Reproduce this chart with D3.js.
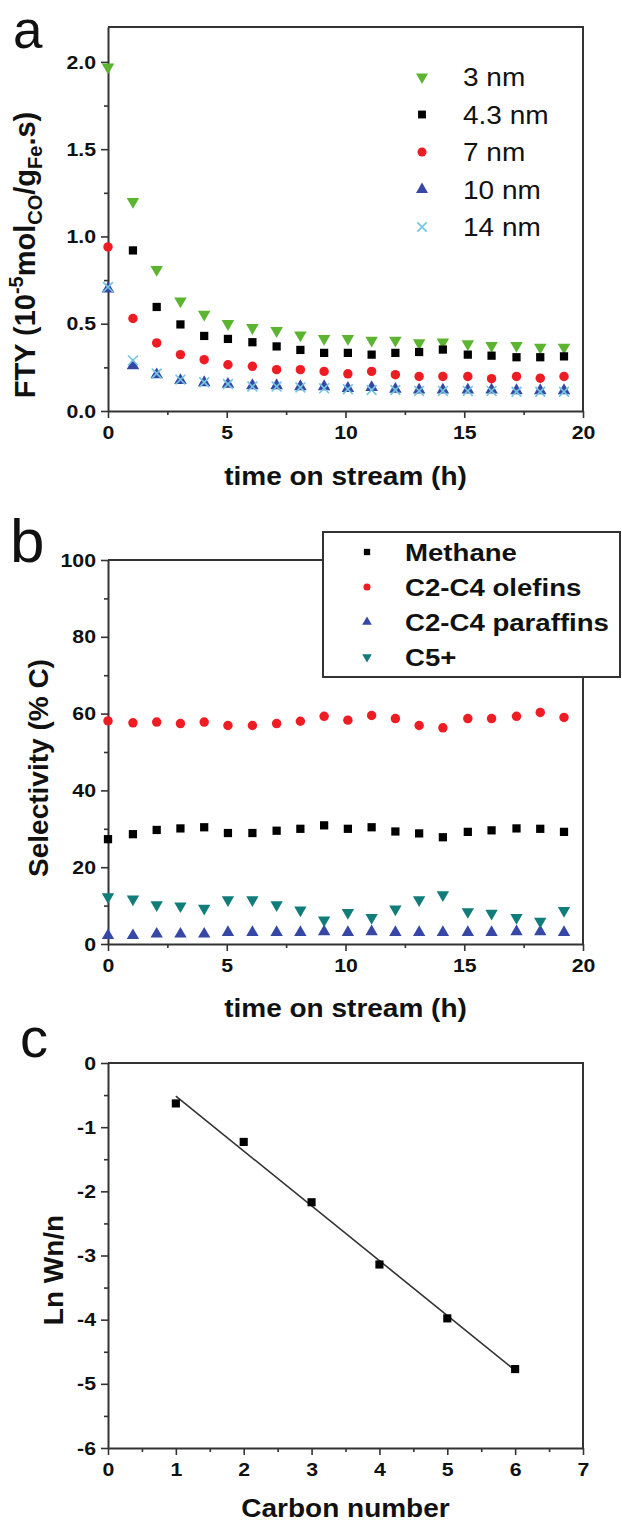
<!DOCTYPE html>
<html>
<head>
<meta charset="utf-8">
<script src="https://cdn.jsdelivr.net/npm/d3@7"></script>
<style>
  body { margin: 0; background: #fff; }
  svg { display: block; }
  text { font-family: "Liberation Sans", Arial, sans-serif; fill: #111; }
</style>
</head>
<body>
<script>
// ---- data ----
const times = [0, 1.05, 2.05, 3.05, 4.05, 5.05, 6.08, 7.1, 8.1, 9.1, 10.1, 11.1, 12.1, 13.1, 14.1, 15.15, 16.15, 17.2, 18.2, 19.2];

// panel a: FTY (10^-5 mol CO / gFe.s)
const fty3nm  = [1.97, 1.20, 0.81, 0.63, 0.554, 0.50, 0.477, 0.46, 0.435, 0.415, 0.415, 0.405, 0.405, 0.39, 0.395, 0.385, 0.375, 0.375, 0.365, 0.365];
const fty43nm = [null, 0.92, 0.596, 0.496, 0.43, 0.413, 0.394, 0.37, 0.35, 0.333, 0.333, 0.323, 0.333, 0.338, 0.352, 0.323, 0.317, 0.308, 0.308, 0.313];
const fty7nm  = [0.94, 0.53, 0.39, 0.323, 0.294, 0.265, 0.256, 0.237, 0.237, 0.227, 0.213, 0.227, 0.208, 0.198, 0.198, 0.198, 0.185, 0.198, 0.188, 0.198];
const fty10nm = [0.70, 0.26, 0.208, 0.175, 0.163, 0.154, 0.146, 0.146, 0.14, 0.14, 0.13, 0.135, 0.125, 0.121, 0.121, 0.121, 0.121, 0.117, 0.117, 0.117];
const fty14nm = [0.71, 0.29, 0.215, 0.18, 0.165, 0.155, 0.14, 0.14, 0.135, 0.13, 0.125, 0.12, 0.12, 0.115, 0.115, 0.115, 0.115, 0.11, 0.11, 0.11];
const sizeLabels = ["3 nm", "4.3 nm", "7 nm", "10 nm", "14 nm"];

// panel b: selectivity (% C)
const methane   = [27.3, 28.6, 29.7, 30.1, 30.4, 28.9, 28.9, 29.5, 30.0, 30.9, 30.0, 30.4, 29.3, 28.8, 27.8, 29.2, 29.6, 30.1, 30.0, 29.2];
const olefins   = [58.1, 57.6, 57.8, 57.4, 57.8, 56.9, 56.9, 57.4, 58.0, 59.3, 58.3, 59.5, 58.7, 56.9, 56.3, 58.7, 58.7, 59.3, 60.3, 59.0];
const paraffins = [2.2, 2.2, 2.6, 2.6, 2.6, 3.0, 3.0, 3.0, 3.0, 3.2, 3.0, 3.2, 3.0, 3.0, 3.0, 3.0, 3.0, 3.2, 3.2, 3.0];
const c5plus    = [12.3, 11.7, 10.2, 9.9, 9.3, 11.5, 11.5, 10.2, 8.85, 6.25, 8.2, 6.9, 9.1, 11.5, 12.8, 8.4, 8.0, 6.9, 5.9, 8.7];
const productLabels = ["Methane", "C2-C4 olefins", "C2-C4 paraffins", "C5+"];

// panel c: ASF plot
const carbonNumber = [1, 2, 3, 4, 5, 6];
const lnWn = [-0.63, -1.23, -2.17, -3.14, -3.98, -4.77];

// ---- layout ----
const W = 622, H = 1524;
const left = 108, right = 583;
const sx = 1.12;   // the figure is slightly wide-set
const ink = "#333";
const plain = d => String(d);   // hyphen minus like the original, not U+2212

const svg = d3.select("body").append("svg").attr("width", W).attr("height", H);

function stretch(sel, k) {
  sel.each(function () {
    const t = d3.select(this);
    const x = +t.attr("x") || 0, y = +t.attr("y") || 0;
    t.attr("x", 0).attr("y", 0)
     .attr("transform", `translate(${x},${y}) scale(${k || sx},1)`);
  });
}

function axes(x, y, xMajor, xMinor, yMajor, yMinor, xFmt, yFmt) {
  const [x0, x1] = x.range();
  const [y0, y1] = y.range();
  const g = svg.append("g");

  const gx = g.append("g").attr("transform", `translate(0,${y0})`)
    .call(d3.axisBottom(x).tickValues(xMajor).tickSize(7).tickSizeOuter(0).tickPadding(8).tickFormat(xFmt));
  g.append("g").attr("transform", `translate(0,${y0})`)
    .call(d3.axisBottom(x).tickValues(xMinor).tickSize(4).tickSizeOuter(0).tickFormat(""))
    .select(".domain").remove();
  const gy = g.append("g").attr("transform", `translate(${x0},0)`)
    .call(d3.axisLeft(y).tickValues(yMajor).tickSize(7).tickSizeOuter(0).tickPadding(5).tickFormat(yFmt));
  g.append("g").attr("transform", `translate(${x0},0)`)
    .call(d3.axisLeft(y).tickValues(yMinor).tickSize(4).tickSizeOuter(0).tickFormat(""))
    .select(".domain").remove();

  g.selectAll(".domain").attr("stroke", ink).attr("stroke-width", 2);
  g.selectAll(".tick line").attr("stroke", ink).attr("stroke-width", 1.6);
  g.selectAll(".tick text").attr("font-size", 19).attr("font-weight", "bold").attr("fill", "#111");
  stretch(gx.selectAll(".tick text"));
  stretch(gy.selectAll(".tick text"));

  // top and right edges of the frame
  g.append("path")
    .attr("d", `M${x0},${y1}H${x1}V${y0}`)
    .attr("fill", "none").attr("stroke", ink).attr("stroke-width", 2);
  return g;
}

function hText(str, x, y, size, weight, k) {
  const t = svg.append("text").attr("x", x).attr("y", y)
    .attr("text-anchor", "middle").attr("font-size", size).attr("font-weight", weight || "bold")
    .text(str);
  stretch(t, k);
  return t;
}

function vText(x, y, size) {
  return svg.append("text")
    .attr("transform", `translate(${x},${y}) rotate(-90)`)
    .attr("text-anchor", "middle").attr("font-size", size).attr("font-weight", "bold");
}

function panelLetter(str, x, y, size) {
  svg.append("text").attr("x", x).attr("y", y)
    .attr("font-size", size).attr("fill", "#111").text(str);
}

function scatter(x, y, xs, ys, type, size, color, rot, stroke) {
  const pts = xs.map((t, i) => ({ t, v: ys[i] })).filter(d => d.v != null);
  svg.append("g").selectAll("path").data(pts).join("path")
    .attr("d", d3.symbol().type(type).size(size))
    .attr("transform", d => `translate(${x(d.t)},${y(d.v)}) rotate(${rot || 0})`)
    .attr("fill", stroke ? "none" : color)
    .attr("stroke", stroke ? color : "none")
    .attr("stroke-width", stroke ? 1.6 : 0);
}

const cross = d3.symbolTimes || d3.symbolX || d3.symbolCross;

// ================= panel a =================
const xa = d3.scaleLinear().domain([0, 20]).range([left, right]);
const ya = d3.scaleLinear().domain([0, 2.2]).range([411, 27]);
axes(xa, ya, [0, 5, 10, 15, 20], [2.5, 7.5, 12.5, 17.5],
     d3.range(0, 2.01, 0.5), d3.range(0.25, 2.2, 0.5), d3.format("d"), d3.format(".1f"));

const seriesA = [
  { v: fty3nm,  type: d3.symbolTriangle, size: 68, color: "#5cb531", rot: 180 },
  { v: fty43nm, type: d3.symbolSquare,   size: 68, color: "#000" },
  { v: fty7nm,  type: d3.symbolCircle,   size: 70, color: "#ee1d23" },
  { v: fty10nm, type: d3.symbolTriangle, size: 68, color: "#3647a6" },
  { v: fty14nm, type: cross,             size: 64, color: "#72c6de", stroke: true }
];
seriesA.forEach(s => scatter(xa, ya, times, s.v, s.type, s.size, s.color, s.rot, s.stroke));

// legend a
const legA = d3.scalePoint().domain(sizeLabels).range([77, 227]);
seriesA.forEach((s, i) => {
  const cy = legA(sizeLabels[i]);
  svg.append("path").attr("d", d3.symbol().type(s.type).size(s.size - 6)())
    .attr("transform", `translate(422,${cy}) rotate(${s.rot || 0})`)
    .attr("fill", s.stroke ? "none" : s.color)
    .attr("stroke", s.stroke ? s.color : "none").attr("stroke-width", s.stroke ? 1.6 : 0);
  const t = svg.append("text").attr("x", 463).attr("y", cy + 9)
    .attr("font-size", 25).attr("fill", "#1a1a1a").text(sizeLabels[i]);
  stretch(t);
});

hText("time on stream (h)", (left + right) / 2, 485, 25);
const fty = vText(35, 255, 29);
fty.append("tspan").text("FTY (10");
fty.append("tspan").attr("dy", -12).attr("font-size", 20).text("-5");
fty.append("tspan").attr("dy", 12).text("mol");
fty.append("tspan").attr("dy", 7).attr("font-size", 20).text("CO");
fty.append("tspan").attr("dy", -7).text("/g");
fty.append("tspan").attr("dy", 7).attr("font-size", 20).text("Fe");
fty.append("tspan").attr("dy", -7).text(".s)");
panelLetter("a", 13, 48, 53);

// ================= panel b =================
const xb = d3.scaleLinear().domain([0, 20]).range([left, right]);
const yb = d3.scaleLinear().domain([0, 100]).range([944, 560]);
axes(xb, yb, [0, 5, 10, 15, 20], [2.5, 7.5, 12.5, 17.5],
     d3.range(0, 101, 20), d3.range(10, 100, 20), d3.format("d"), d3.format("d"));

const seriesB = [
  { v: methane,   type: d3.symbolSquare,   size: 68, color: "#000" },
  { v: olefins,   type: d3.symbolCircle,   size: 70, color: "#ee1d23" },
  { v: paraffins, type: d3.symbolTriangle, size: 66, color: "#3647a6" },
  { v: c5plus,    type: d3.symbolTriangle, size: 66, color: "#117d7a", rot: 180 }
];
seriesB.forEach(s => scatter(xb, yb, times, s.v, s.type, s.size, s.color, s.rot));

// legend b
svg.append("rect").attr("x", 323).attr("y", 532).attr("width", 297).attr("height", 145)
  .attr("fill", "#fff").attr("stroke", ink).attr("stroke-width", 2);
const legB = d3.scalePoint().domain(productLabels).range([552, 657]);
seriesB.forEach((s, i) => {
  const cy = legB(productLabels[i]);
  svg.append("path").attr("d", d3.symbol().type(s.type).size(40)())
    .attr("transform", `translate(367,${cy}) rotate(${s.rot || 0})`)
    .attr("fill", s.color);
  const t = svg.append("text").attr("x", 405).attr("y", cy + 8.5)
    .attr("font-size", 24).attr("font-weight", "bold").text(productLabels[i]);
  stretch(t, 1.15);
});

hText("time on stream (h)", (left + right) / 2, 1017, 25);
vText(48, 768, 28).text("Selectivity (% C)");
panelLetter("b", 10, 562, 62);

// ================= panel c =================
const xc = d3.scaleLinear().domain([0, 7]).range([left, right]);
const yc = d3.scaleLinear().domain([-6, 0]).range([1448, 1063]);
axes(xc, yc, d3.range(0, 7.1, 1), d3.range(0.5, 7, 1),
     d3.range(-6, 0.1, 1), d3.range(-5.5, 0, 1), plain, plain);

// least-squares fit line
const mx = d3.mean(carbonNumber), my = d3.mean(lnWn);
const slope = d3.sum(carbonNumber, (c, i) => (c - mx) * (lnWn[i] - my)) / d3.sum(carbonNumber, c => (c - mx) ** 2);
const fit = c => my + slope * (c - mx);
const ends = d3.extent(carbonNumber);
svg.append("path")
  .attr("d", d3.line().x(c => xc(c)).y(c => yc(fit(c)))(ends))
  .attr("fill", "none").attr("stroke", "#333").attr("stroke-width", 1.6);
scatter(xc, yc, carbonNumber, lnWn, d3.symbolSquare, 66, "#000");

hText("Carbon number", (left + right) / 2, 1517, 25);
vText(63, 1270, 28).text("Ln Wn/n");
panelLetter("c", 20, 1057, 56);
</script>
</body>
</html>
